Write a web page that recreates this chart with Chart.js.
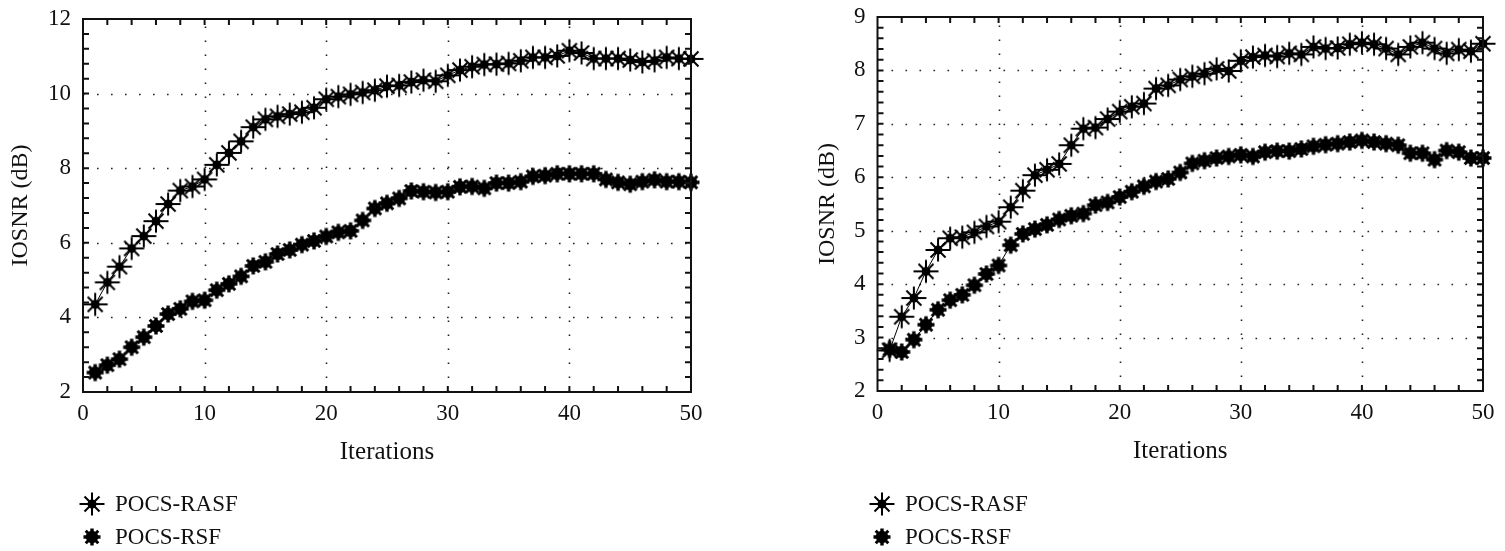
<!DOCTYPE html>
<html>
<head>
<meta charset="utf-8">
<script src="https://cdn.jsdelivr.net/npm/chart.js@4/dist/chart.umd.min.js"></script>
<style>
  html, body { margin: 0; padding: 0; background: #fff; }
  #wrap { position: relative; width: 1505px; height: 551px; overflow: hidden; }
  canvas { position: absolute; top: 0; }
  #leftChart { left: 0; }
  #rightChart { left: 807px; }
</style>
</head>
<body>
<div id="wrap">
  <canvas id="leftChart" width="740" height="551"></canvas>
  <canvas id="rightChart" width="698" height="551"></canvas>
</div>
<script>
/* data */
const iterations = [1, 2, 3, 4, 5, 6, 7, 8, 9, 10, 11, 12, 13, 14, 15, 16, 17, 18, 19, 20,
  21, 22, 23, 24, 25, 26, 27, 28, 29, 30, 31, 32, 33, 34, 35, 36, 37, 38, 39, 40,
  41, 42, 43, 44, 45, 46, 47, 48, 49, 50];
const seriesNames = ["POCS-RASF", "POCS-RSF"];

const leftRasf = [4.35, 4.94, 5.36, 5.85, 6.18, 6.58, 7.04, 7.40, 7.51, 7.70,
  8.09, 8.41, 8.72, 9.10, 9.31, 9.39, 9.45, 9.50, 9.62, 9.85,
  9.92, 9.98, 10.03, 10.09, 10.20, 10.22, 10.31, 10.36, 10.33, 10.49,
  10.63, 10.72, 10.78, 10.79, 10.81, 10.88, 10.97, 10.97, 11.01, 11.15,
  11.09, 10.94, 10.94, 10.94, 10.90, 10.85, 10.88, 10.97, 10.94, 10.93];
const leftRsf = [2.52, 2.72, 2.88, 3.20, 3.47, 3.77, 4.09, 4.23, 4.43, 4.46,
  4.73, 4.90, 5.10, 5.38, 5.49, 5.70, 5.81, 5.95, 6.05, 6.17,
  6.28, 6.32, 6.60, 6.92, 7.06, 7.19, 7.39, 7.37, 7.35, 7.37,
  7.50, 7.51, 7.46, 7.60, 7.60, 7.64, 7.78, 7.80, 7.85, 7.85,
  7.85, 7.85, 7.70, 7.62, 7.57, 7.64, 7.69, 7.64, 7.64, 7.62];

const rightRasf = [2.76, 3.39, 3.74, 4.24, 4.64, 4.86, 4.88, 4.97, 5.08, 5.17,
  5.44, 5.75, 6.04, 6.14, 6.25, 6.60, 6.91, 6.93, 7.09, 7.23,
  7.32, 7.38, 7.66, 7.72, 7.83, 7.89, 7.94, 8.03, 7.99, 8.18,
  8.25, 8.28, 8.26, 8.32, 8.30, 8.44, 8.41, 8.42, 8.49, 8.52,
  8.49, 8.41, 8.30, 8.44, 8.52, 8.41, 8.32, 8.39, 8.36, 8.50];
const rightRsf = [2.78, 2.73, 2.96, 3.24, 3.52, 3.70, 3.80, 3.98, 4.19, 4.35,
  4.73, 4.94, 5.03, 5.11, 5.21, 5.28, 5.32, 5.48, 5.53, 5.63,
  5.73, 5.83, 5.92, 5.97, 6.09, 6.26, 6.31, 6.36, 6.39, 6.42,
  6.39, 6.47, 6.49, 6.49, 6.53, 6.58, 6.61, 6.63, 6.66, 6.69,
  6.66, 6.63, 6.60, 6.45, 6.45, 6.33, 6.50, 6.47, 6.36, 6.36];

const FONT = "'Liberation Serif', 'Times New Roman', serif";

// marker images
function starMarker() {
  const c = document.createElement('canvas');
  c.width = 28; c.height = 28;
  const g = c.getContext('2d');
  g.translate(14, 14);
  g.strokeStyle = '#000';
  g.lineWidth = 2;
  g.beginPath();
  g.moveTo(0, -11.5); g.lineTo(0, 11.5);
  g.moveTo(-12.5, 0); g.lineTo(12.5, 0);
  g.moveTo(-7.5, -7.5); g.lineTo(7.5, 7.5);
  g.moveTo(-7.5, 7.5); g.lineTo(7.5, -7.5);
  g.stroke();
  g.beginPath();
  g.arc(0, 0, 4.5, 0, Math.PI * 2);
  g.fillStyle = '#000';
  g.fill();
  return c;
}
function blobMarker() {
  const c = document.createElement('canvas');
  c.width = 22; c.height = 22;
  const g = c.getContext('2d');
  g.translate(11, 11);
  g.fillStyle = '#000';
  g.beginPath();
  g.arc(0, 0, 6.2, 0, Math.PI * 2);
  g.fill();
  g.strokeStyle = '#000';
  g.lineWidth = 3.4;
  g.beginPath();
  g.moveTo(0, -8.5); g.lineTo(0, 8.5);
  g.moveTo(-8.5, 0); g.lineTo(8.5, 0);
  g.stroke();
  g.lineWidth = 3;
  g.beginPath();
  g.moveTo(-6.3, -6.3); g.lineTo(6.3, 6.3);
  g.moveTo(-6.3, 6.3); g.lineTo(6.3, -6.3);
  g.stroke();
  return c;
}
const starImg = starMarker();
const blobImg = blobMarker();

// frame, inside ticks, dotted grid and the stacked legend
const framePlugin = {
  id: 'frame',
  beforeDatasetsDraw(chart, args, opts) {
    const ctx = chart.ctx;
    const a = chart.chartArea;
    const xs = chart.scales.x, ys = chart.scales.y;
    ctx.save();
    ctx.strokeStyle = '#222';
    ctx.lineWidth = 1.6;
    ctx.setLineDash([1.6, 12.4]);
    opts.xGrid.forEach(v => {
      const px = Math.round(xs.getPixelForValue(v)) + 0.5;
      ctx.beginPath(); ctx.moveTo(px, a.bottom); ctx.lineTo(px, a.top); ctx.stroke();
    });
    opts.yGrid.forEach(v => {
      const py = Math.round(ys.getPixelForValue(v)) + 0.5;
      ctx.beginPath(); ctx.moveTo(a.left, py); ctx.lineTo(a.right, py); ctx.stroke();
    });
    ctx.restore();
  },
  afterDatasetsDraw(chart, args, opts) {
    const ctx = chart.ctx;
    const a = chart.chartArea;
    const xs = chart.scales.x, ys = chart.scales.y;
    ctx.save();
    ctx.strokeStyle = '#111';
    ctx.lineWidth = 2;
    ctx.strokeRect(a.left, a.top, a.right - a.left, a.bottom - a.top);
    const len = 6;
    ctx.beginPath();
    for (let v = xs.min + opts.xStep; v < xs.max - 1e-6; v += opts.xStep) {
      const px = xs.getPixelForValue(v);
      ctx.moveTo(px, a.bottom); ctx.lineTo(px, a.bottom - len);
      ctx.moveTo(px, a.top); ctx.lineTo(px, a.top + len);
    }
    for (let v = ys.min + opts.yStep; v < ys.max - 1e-6; v += opts.yStep) {
      const py = ys.getPixelForValue(v);
      ctx.moveTo(a.left, py); ctx.lineTo(a.left + len, py);
      ctx.moveTo(a.right, py); ctx.lineTo(a.right - len, py);
    }
    ctx.stroke();

    // legend
    ctx.font = '23px ' + FONT;
    ctx.fillStyle = '#111';
    ctx.textBaseline = 'middle';
    chart.data.datasets.forEach((ds, i) => {
      const y = opts.legendY + i * 33;
      const img = ds.pointStyle;
      ctx.drawImage(img, opts.legendX - img.width / 2, y - img.height / 2);
      ctx.fillText(ds.label, opts.legendX + 23, y + 1);
    });
    ctx.restore();
  }
};

function makeChart(id, rasf, rsf, cfg) {
  const points = vals => iterations.map((it, i) => ({ x: it, y: vals[i] }));
  return new Chart(document.getElementById(id), {
    type: 'line',
    data: {
      datasets: [
        { label: seriesNames[0], data: points(rasf), borderColor: '#000', borderWidth: 1,
          pointStyle: starImg, pointRadius: 10, clip: false, fill: false, tension: 0 },
        { label: seriesNames[1], data: points(rsf), borderColor: '#000', borderWidth: 1,
          pointStyle: blobImg, pointRadius: 8, clip: false, fill: false, tension: 0 }
      ]
    },
    options: {
      responsive: false,
      animation: false,
      layout: { padding: cfg.padding },
      scales: {
        x: {
          type: 'linear', min: 0, max: 50,
          grid: { display: false, drawTicks: false },
          border: { display: false },
          ticks: { stepSize: 10, padding: 8, color: '#111', font: { family: FONT, size: 23 } },
          title: { display: true, text: 'Iterations', color: '#111', padding: { top: 4, bottom: 0 },
                   font: { family: FONT, size: 25 } },
          afterFit(scale) { scale.height = 75; scale.paddingLeft = 0; scale.paddingRight = 0; }
        },
        y: {
          min: cfg.yMin, max: cfg.yMax,
          grid: { display: false, drawTicks: false },
          border: { display: false },
          ticks: { stepSize: cfg.yMajor, padding: 12, color: '#111', font: { family: FONT, size: 23 } },
          title: { display: true, text: 'IOSNR (dB)', color: '#111', padding: { top: 6, bottom: 0 },
                   font: { family: FONT, size: 24 } },
          afterFit(scale) { scale.width = cfg.yWidth; scale.paddingTop = 0; scale.paddingBottom = 0; }
        }
      },
      plugins: {
        legend: { display: false },
        tooltip: { enabled: false },
        frame: cfg.frame
      }
    },
    plugins: [framePlugin]
  });
}

makeChart('leftChart', leftRasf, leftRsf, {
  padding: { top: 19, right: 49, bottom: 84, left: 0 },
  yMin: 2, yMax: 12, yMajor: 2, yWidth: 83,
  frame: { xGrid: [10, 20, 30, 40], yGrid: [4, 6, 8, 10], xStep: 2, yStep: 0.4, legendX: 92, legendY: 504 }
});

makeChart('rightChart', rightRasf, rightRsf, {
  padding: { top: 17, right: 22, bottom: 85, left: 0 },
  yMin: 2, yMax: 9, yMajor: 1, yWidth: 70.5,
  frame: { xGrid: [10, 20, 30, 40], yGrid: [3, 4, 5, 6, 7, 8], xStep: 2, yStep: 0.2, legendX: 75, legendY: 504 }
});
</script>
</body>
</html>
